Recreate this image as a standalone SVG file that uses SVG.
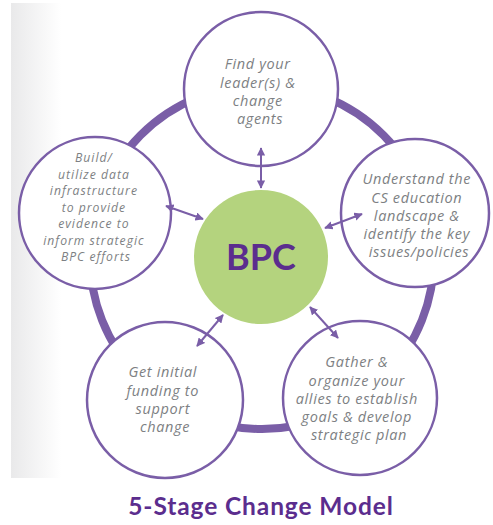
<svg xmlns="http://www.w3.org/2000/svg" width="493" height="525" viewBox="0 0 493 525">
  <defs>
    <linearGradient id="edgeShade" x1="0" y1="0" x2="1" y2="0">
      <stop offset="0" stop-color="#e9e9ea"/>
      <stop offset="1" stop-color="#ffffff"/>
    </linearGradient>
    <marker id="tip" viewBox="0 0 10 10" refX="9" refY="5" markerWidth="4.2" markerHeight="4.2" orient="auto-start-reverse" markerUnits="strokeWidth">
      <path d="M0,0 L10,5 L0,10 Z" fill="#7a5ea7"/>
    </marker>
    <style>
      .stage { fill: #ffffff; stroke: #7a5ea7; stroke-width: 2.5; }
      .label { font-family: "Open Sans", "DejaVu Sans", sans-serif; font-style: italic; font-weight: 400; font-size: 14.5px; fill: #7d7f83; text-anchor: middle; letter-spacing: 0.65px; }
      .small { font-size: 12.2px; letter-spacing: 1px; }
      .link { stroke: #7a5ea7; stroke-width: 2; fill: none; marker-start: url(#tip); marker-end: url(#tip); }
    </style>
  </defs>

  <!-- page background with soft shaded left edge -->
  <rect x="0" y="0" width="493" height="525" fill="#ffffff"/>
  <rect x="11" y="3" width="50" height="475" fill="url(#edgeShade)"/>

  <!-- outer cycle ring linking the five stages -->
  <g id="ring">
    <circle cx="262" cy="257" r="172" fill="none" stroke="#7a5ea7" stroke-width="8"/>
  </g>

  <!-- centre hub -->
  <g id="hub">
    <circle cx="261" cy="257" r="67" fill="#b4d37e"/>
    <text x="261" y="270" font-family="Lato, 'Open Sans', sans-serif" font-weight="bold" font-size="36" fill="#5b2d8e" text-anchor="middle">BPC</text>
  </g>

  <g id="stage-leaders">
    <circle class="stage" cx="261" cy="89" r="77"/>
    <text class="label">
      <tspan x="260" y="69">Find your</tspan>
      <tspan x="260" y="88">leader(s) &amp;</tspan>
      <tspan x="260" y="106">change</tspan>
      <tspan x="260" y="124">agents</tspan>
    </text>
  </g>

  <g id="stage-landscape">
    <circle class="stage" cx="415" cy="213" r="74"/>
    <text class="label">
      <tspan x="419" y="184">Understand the</tspan>
      <tspan x="419" y="203">CS education</tspan>
      <tspan x="419" y="221">landscape &amp;</tspan>
      <tspan x="419" y="239">identify the key</tspan>
      <tspan x="419" y="257">issues/policies</tspan>
    </text>
  </g>

  <g id="stage-allies">
    <circle class="stage" cx="360" cy="398" r="77"/>
    <text class="label">
      <tspan x="359" y="367">Gather &amp;</tspan>
      <tspan x="359" y="386">organize your</tspan>
      <tspan x="359" y="404">allies to establish</tspan>
      <tspan x="359" y="422">goals &amp; develop</tspan>
      <tspan x="359" y="440">strategic plan</tspan>
    </text>
  </g>

  <g id="stage-funding">
    <circle class="stage" cx="165" cy="400" r="78"/>
    <text class="label">
      <tspan x="165" y="377">Get initial</tspan>
      <tspan x="165" y="396">funding to</tspan>
      <tspan x="165" y="414">support</tspan>
      <tspan x="165" y="432">change</tspan>
    </text>
  </g>

  <g id="stage-data">
    <circle class="stage" cx="95" cy="213" r="76"/>
    <text class="label small">
      <tspan x="96" y="162">Build/</tspan>
      <tspan x="96" y="178.5">utilize data</tspan>
      <tspan x="96" y="195">infrastructure</tspan>
      <tspan x="96" y="211.5">to provide</tspan>
      <tspan x="96" y="228">evidence to</tspan>
      <tspan x="96" y="244.5">inform strategic</tspan>
      <tspan x="96" y="261">BPC efforts</tspan>
    </text>
  </g>

  <!-- two-way links between hub and stages, drawn over the stage circles -->
  <g id="connectors">
    <line class="link" x1="261" y1="148" x2="261" y2="188"/>
    <line class="link" x1="166" y1="206" x2="203" y2="219"/>
    <line class="link" x1="362" y1="214" x2="325" y2="228"/>
    <line class="link" x1="310" y1="307" x2="338" y2="338"/>
    <line class="link" x1="223" y1="315" x2="197" y2="346"/>
  </g>

  <g id="title">
    <text x="261" y="515" font-family="Lato, 'Open Sans', sans-serif" font-weight="bold" font-size="24.5" letter-spacing="0.9" fill="#5b2d8e" text-anchor="middle">5-Stage Change Model</text>
  </g>
</svg>
